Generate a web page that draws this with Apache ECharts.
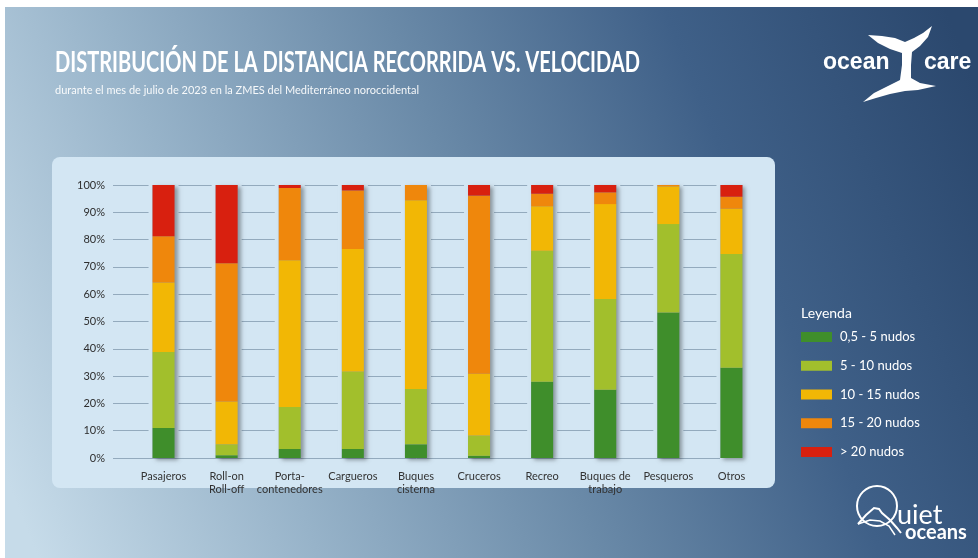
<!DOCTYPE html>
<html>
<head>
<meta charset="utf-8">
<script src="https://cdn.jsdelivr.net/npm/echarts@6/dist/echarts.min.js"></script>
<style>
    html,body{margin:0;padding:0;}
    #chart{width:978px;height:558px;}
</style>
</head>
<body>
<div id="chart"></div>
<script>
// 类别
let categories = ['Pasajeros','Roll-on\nRoll-off','Porta-\ncontenedores','Cargueros','Buques\ncisterna','Cruceros','Recreo','Buques de\ntrabajo','Pesqueros','Otros']
// 各速度区间占比 (%)
let v_0_5 = [11, 1, 3.3, 3.3, 5, 0.8, 27.9, 25, 53.3, 33.1]
let v_5_10 = [27.8, 4, 15.4, 28.4, 20.3, 7.4, 48, 33.2, 32.4, 41.6]
let v_10_15 = [25.5, 15.7, 53.7, 44.9, 69.1, 22.7, 16.3, 34.8, 13.8, 16.6]
let v_15_20 = [16.9, 50.6, 26.5, 21.4, 5.6, 65.2, 4.6, 4.3, 0.5, 4.4]
let v_20 = [18.8, 28.7, 1.1, 2, 0, 3.9, 3.2, 2.7, 0, 4.3]
let full = [100,100,100,100,100,100,100,100,100,100]
let names = ['0,5 - 5 nudos','5 - 10 nudos','10 - 15 nudos','15 - 20 nudos','> 20 nudos']
let colors = ['#3f8e2b','#a2bf2c','#f2b705','#ef870c','#d8200f']

let title_txt = 'DISTRIBUCIÓN DE LA DISTANCIA RECORRIDA VS. VELOCIDAD'
let sub_txt = 'durante el mes de julio de 2023 en la ZMES del Mediterráneo noroccidental'

// 测量文字宽度, 用于压缩标题
function text_w(txt, font){
    let c = document.createElement('canvas').getContext('2d')
    c.font = font
    return c.measureText(txt).width
}
let title_font = 'bold 28px Lato'
let title_sx = 585 / text_w(title_txt, title_font)

var mychart = echarts.init(document.getElementById('chart'))

let panel = '#d3e6f3'
let series = []
// 遮罩, 让网格线在柱子旁断开
series.push({
    type:'bar', xAxisIndex:2, yAxisIndex:1, data:full, barWidth:30,
    itemStyle:{color:panel}, z:1, silent:true, animation:false
})
// 阴影
series.push({
    type:'bar', xAxisIndex:1, yAxisIndex:1, data:full, barWidth:22, barGap:'-100%',
    itemStyle:{color:'#8aa0b0', shadowBlur:4, shadowOffsetX:3, shadowOffsetY:2, shadowColor:'rgba(0,0,0,0.35)'},
    z:2, silent:true, animation:false
})
let arrs = [v_0_5, v_5_10, v_10_15, v_15_20, v_20]
arrs.forEach((arr,i)=>{
    series.push({
        name:names[i], type:'bar', stack:'total', xAxisIndex:1, yAxisIndex:1,
        data:arr, barWidth:22, barGap:'-100%',
        itemStyle:{color:colors[i]}, z:3, animation:false
    })
})

mychart.setOption({
    backgroundColor:'#ffffff',
    textStyle:{fontFamily:'Lato'},
    graphic:[
        {type:'rect', shape:{x:5, y:7, width:973, height:551}, z:-20,
            style:{fill:{
                type:'linear', x:0, y:0.85, x2:1, y2:0.15,
                colorStops:[
                    {offset:0, color:'#c6dbe9'},
                    {offset:0.25, color:'#97b3c9'},
                    {offset:0.5, color:'#6a8aa8'},
                    {offset:0.75, color:'#3f6088'},
                    {offset:1, color:'#2b486e'}
                ]
            }}},
        {type:'rect', shape:{x:52, y:157, width:723, height:331, r:8}, style:{fill:panel}, z:-10},
        {type:'text', x:55, y:63, scaleX:title_sx, style:{text:title_txt, font:title_font, fill:'#ffffff', textVerticalAlign:'middle'}},
        {type:'text', x:55, y:90, style:{text:sub_txt, font:'11px Lato', fill:'rgba(255,255,255,0.92)', textVerticalAlign:'middle'}},
        {type:'text', x:801, y:313, style:{text:'Leyenda', font:'14px Lato', fill:'#ffffff', textVerticalAlign:'middle'}},
        // ocean care logo
        {type:'text', x:823, y:63, style:{text:'ocean', font:'bold 23px "Liberation Sans"', fill:'#ffffff', textVerticalAlign:'middle'}},
        {type:'text', x:924, y:63, style:{text:'care', font:'bold 23px "Liberation Sans"', fill:'#ffffff', textVerticalAlign:'middle'}},
        {type:'polygon', shape:{points:[[868,35],[882,36],[895,38],[905,42],[914,38],[923,33],[932,26],[928,37],[920,46],[912,52],[911,65],[911,78],[920,83],[936,86],[918,90],[905,91],[890,94],[876,98],[863,102],[874,93],[888,86],[900,80],[902,65],[902,53],[890,49],[878,43]]}, style:{fill:'#ffffff'}},
        // quiet oceans logo
        {type:'circle', shape:{cx:877, cy:506, r:20}, style:{fill:'transparent', stroke:'#ffffff', lineWidth:2}},
        {type:'polyline', shape:{points:[[858,524],[866,515],[874,508],[879,509],[882,513],[890,520],[897,528],[901,533]]}, style:{fill:'transparent', stroke:'#ffffff', lineWidth:2}},
        {type:'polyline', shape:{points:[[858,524],[870,520],[880,521],[889,526],[895,535]]}, style:{fill:'transparent', stroke:'#ffffff', lineWidth:1.5}},
        {type:'text', x:897, y:529, style:{text:'uiet', font:'27px Lato', fill:'#ffffff', textVerticalAlign:'bottom'}},
        {type:'text', x:905, y:533, style:{text:'oceans', font:'bold 20px Lato', fill:'#ffffff', textVerticalAlign:'middle'}}
    ],
    legend:{
        data:names, orient:'vertical', left:796, top:325,
        itemWidth:31, itemHeight:10, itemGap:14.75, icon:'rect',
        textStyle:{color:'#ffffff', fontSize:13, lineHeight:14, fontFamily:'Lato', padding:[0,0,0,3]},
        selectedMode:false
    },
    grid:[
        {left:113, right:258, top:185, bottom:100},
        {left:132, right:215, top:185, bottom:100}
    ],
    xAxis:[
        {gridIndex:0, type:'value', show:false, min:0, max:1},
        {
            gridIndex:1, type:'category', data:categories,
            axisLine:{show:false}, axisTick:{show:false},
            axisLabel:{color:'#333333', fontSize:11, lineHeight:13, margin:12, interval:0, fontFamily:'Lato'}
        },
        {gridIndex:1, type:'category', data:categories, show:false}
    ],
    yAxis:[
        {
            gridIndex:0, type:'value', min:0, max:100, interval:10,
            axisLine:{show:false}, axisTick:{show:false},
            axisLabel:{formatter:'{value}%', color:'#2e2e2e', fontSize:11, margin:8, fontFamily:'Lato'},
            splitLine:{lineStyle:{color:'#93aabd', width:1}}
        },
        {gridIndex:1, type:'value', min:0, max:100, show:false, splitLine:{show:false}}
    ],
    series:series
})
</script>
</body>
</html>
